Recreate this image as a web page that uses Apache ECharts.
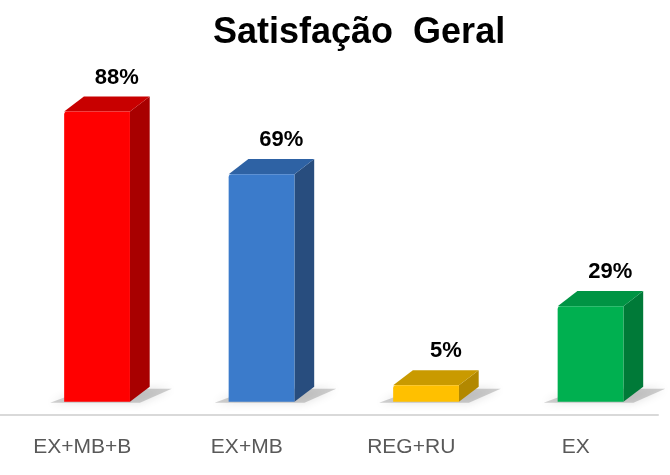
<!DOCTYPE html>
<html>
<head>
<meta charset="utf-8">
<script src="https://cdn.jsdelivr.net/npm/echarts@6/dist/echarts.min.js"></script>
<style>html,body{margin:0;padding:0;background:#fff;}#c{width:670px;height:475px;}</style>
</head>
<body>
<div id="c"></div>
<script>
const categories = ['EX+MB+B', 'EX+MB', 'REG+RU', 'EX'];
const values = [88, 69, 5, 29];
const frontColors = ['#FF0000', '#3B7BCB', '#FFC000', '#00B050'];
const topColors = ['#C80000', '#2E62A4', '#C99A00', '#009444'];
const sideColors = ['#A80000', '#284D7E', '#B28800', '#007A38'];

const chart = echarts.init(document.getElementById('c'));

function renderItem(params, api) {
  const idx = api.value(0);
  const val = api.value(1);
  const i = params.dataIndex;
  const top = api.coord([idx, val]);
  const base = api.coord([idx, 0]);
  const band = api.size([1, 0])[0];
  const w = band * 0.40;
  const cx = top[0] + band * 0.09;
  const x0 = cx - w / 2, x1 = cx + w / 2;
  const yT = top[1], yB = base[1];
  const dx = w * 0.30, dy = w * 0.23;
  const r = 3;
  return {
    type: 'group',
    children: [
      {
        type: 'polygon',
        shape: { points: [[x0 - 14, yB + 1], [x1 + 10, yB + 1], [x1 + dx + 22, yB - dy + 2], [x0 + dx + 4, yB - dy + 2]] },
        style: { fill: 'rgba(120,120,120,0.35)', shadowBlur: 10, shadowColor: 'rgba(0,0,0,0.35)' },
        z2: 0
      },
      {
        type: 'polygon',
        shape: { points: [[x1, yT], [x1 + dx, yT - dy], [x1 + dx, yB - dy], [x1, yB]] },
        style: { fill: sideColors[i] },
        z2: 1
      },
      {
        type: 'polygon',
        shape: { points: [[x0, yT], [x0 + dx, yT - dy], [x1 + dx, yT - dy], [x1, yT]] },
        style: { fill: topColors[i] },
        z2: 1
      },
      {
        type: 'rect',
        shape: { x: x0, y: yT, width: w, height: yB - yT, r: [r, 0, 0, 0] },
        style: { fill: frontColors[i] },
        z2: 2
      },
      {
        type: 'text',
        x: cx + band * 0.12,
        y: yT - 34,
        style: {
          text: val + '%',
          fill: '#000',
          font: 'bold 22px "Liberation Sans", Arial, sans-serif',
          align: 'center',
          verticalAlign: 'middle'
        },
        z2: 3
      }
    ]
  };
}

chart.setOption({
  animation: false,
  backgroundColor: '#ffffff',
  title: {
    text: 'Satisfação  Geral',
    left: 208,
    top: 10,
    textStyle: { fontSize: 36, fontWeight: 'bold', color: '#000', fontFamily: '"Liberation Sans", Arial, sans-serif' }
  },
  grid: { left: 0, right: 12, top: 72, bottom: 60, containLabel: false },
  xAxis: {
    type: 'category',
    data: categories,
    axisLine: { onZero: false, lineStyle: { color: '#D9D9D9', width: 2 } },
    axisTick: { show: false },
    axisLabel: { color: '#595959', fontSize: 21, margin: 22, fontFamily: '"Liberation Sans", Arial, sans-serif' },
    splitLine: { show: false }
  },
  yAxis: {
    type: 'value',
    min: -4,
    max: 100,
    show: false,
    splitLine: { show: false }
  },
  series: [{
    type: 'custom',
    renderItem: renderItem,
    encode: { x: 0, y: 1 },
    data: categories.map((c, k) => [k, values[k]])
  }]
});
</script>
</body>
</html>
